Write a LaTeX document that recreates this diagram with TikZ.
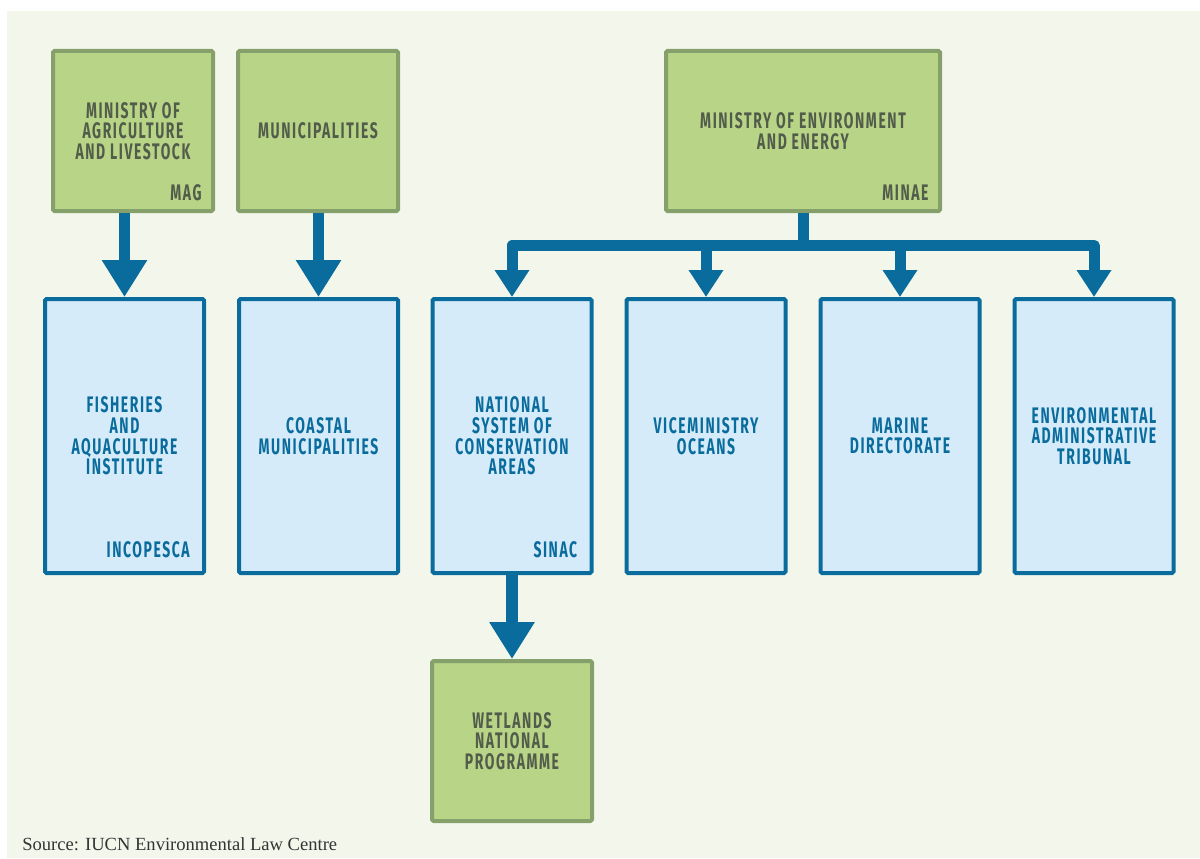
\documentclass[tikz,border=0pt]{standalone}
\usepackage{fontspec}
\setmainfont{Liberation Serif}
\newfontfamily\chartfont[FakeStretch=0.62,LetterSpace=7]{Fira Sans}
\usetikzlibrary{arrows.meta}
\definecolor{paper}{HTML}{F3F7EB}
\definecolor{greenfill}{HTML}{B8D486}
\definecolor{greenline}{HTML}{86A06B}
\definecolor{greentext}{HTML}{525C4B}
\definecolor{bluefill}{HTML}{D5EBF9}
\definecolor{flow}{HTML}{0A6C9D}
\begin{document}
\begin{tikzpicture}
[level distance=7.625cm,
 box/.style={rectangle,rounded corners=1pt,line width=0.1cm,align=center,
   font=\chartfont\bfseries\fontsize{16}{14.7}\selectfont},
 greenbox/.style={box,draw=greenline,fill=greenfill,text=greentext,
   minimum width=4cm,minimum height=4cm},
 bluebox/.style={box,draw=flow,fill=bluefill,text=flow,
   minimum width=3.975cm,minimum height=6.85cm},
 greentag/.style={label={[anchor=south east,inner sep=0pt,xshift=-0.33cm,yshift=0.3cm,
   text=greentext,font=\chartfont\bfseries\fontsize{16}{14.7}\selectfont]south east:#1}},
 bluetag/.style={label={[anchor=south east,inner sep=0pt,xshift=-0.4cm,yshift=0.42cm,
   text=flow,font=\chartfont\bfseries\fontsize{16}{14.7}\selectfont]south east:#1}},
 bigarrow/.style={draw=flow,line width=0.29cm,-{Triangle[width=1.075cm,length=0.925cm]}},
 busarrow/.style={draw=flow,line width=0.275cm,line join=round,
   -{Triangle[width=0.825cm,length=0.675cm]}}]
\useasboundingbox (0,0) rectangle (30,-21.45);
\fill[paper] (0.175,-0.275) rectangle (30,-21.45);

\node[greenbox,greentag=MAG] (mag) at (3.325,-3.275) {MINISTRY OF\\AGRICULTURE\\AND LIVESTOCK}
  [edge from parent/.style={bigarrow},
   edge from parent path={(\tikzparentnode.south -| \tikzchildnode.north) -- (\tikzchildnode.north)}]
  child[xshift=-0.2125cm] {node[bluebox,bluetag=INCOPESCA] (incopesca) {FISHERIES\\AND\\AQUACULTURE\\INSTITUTE}};

\node[greenbox] (municipalities) at (7.95,-3.275) {MUNICIPALITIES}
  [edge from parent/.style={bigarrow},
   edge from parent path={(\tikzparentnode.south -| \tikzchildnode.north) -- (\tikzchildnode.north)}]
  child[xshift=0.0125cm] {node[bluebox] (coastal) {COASTAL\\MUNICIPALITIES}};

\node[greenbox,greentag=MINAE,minimum width=6.85cm] (minae) at (20.075,-3.275) {MINISTRY OF ENVIRONMENT\\AND ENERGY}
  [sibling distance=4.85cm,
   edge from parent/.style={busarrow},
   edge from parent path={(\tikzparentnode.south) -- ++(0,-0.81) -| (\tikzchildnode.north)}]
  child {node[bluebox,bluetag=SINAC] (sinac) {NATIONAL\\SYSTEM OF\\CONSERVATION\\AREAS}
    child[edge from parent/.style={bigarrow},
      edge from parent path={(\tikzparentnode.south) -- (\tikzchildnode.north)}]
      {node[greenbox] (wetlands) {WETLANDS\\NATIONAL\\PROGRAMME}}
  }
  child {node[bluebox] (viceministry) {VICEMINISTRY\\OCEANS}}
  child {node[bluebox] (marine) {MARINE\\DIRECTORATE}}
  child {node[bluebox] (tribunal) {ENVIRONMENTAL\\ADMINISTRATIVE\\TRIBUNAL}};

\node[anchor=base west,inner sep=0pt,text=black!80,font=\fontsize{13.2}{15}\selectfont] (source)
  at (0.55,-21.25) {Source: IUCN Environmental Law Centre};
\end{tikzpicture}
\end{document}
